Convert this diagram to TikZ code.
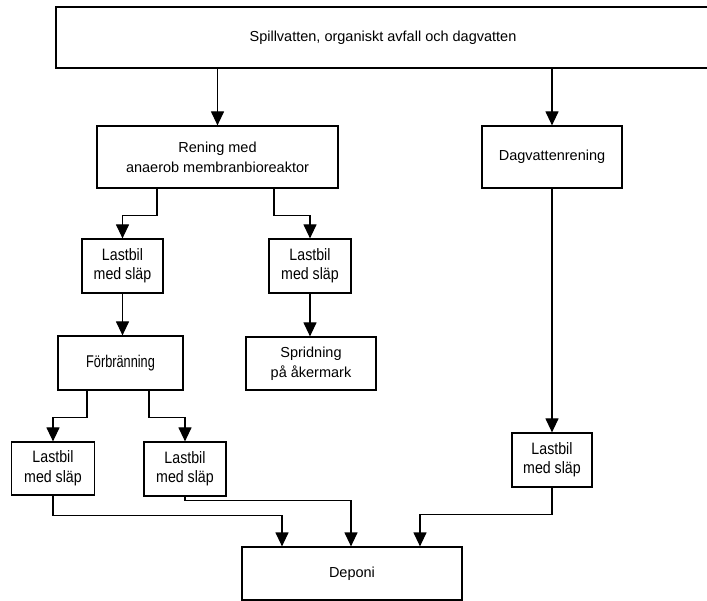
\documentclass[tikz,border=0pt]{standalone}
\usepackage{fontspec}
\usepackage{graphicx}
\setmainfont{Liberation Sans}
\usetikzlibrary{arrows.meta}

% condensed two-line label used in the transport boxes
\newcommand{\truckline}{\scalebox{0.86}[1]{\fontsize{16.5}{19.5}\selectfont
  \begin{tabular}{@{}c@{}}Lastbil\\med släp\end{tabular}}}

\begin{document}
\begin{tikzpicture}[x=1pt,y=-1pt,
  every node/.style={font=\fontsize{14.5}{20}\selectfont},
  box/.style={draw,line width=1.2pt,rectangle,inner sep=0pt,align=center},
  link/.style={line width=1.2pt},
  arr/.style={link,-{Triangle[length=14pt,width=13pt]}}]

\useasboundingbox (0,0) rectangle (707,601);
\clip (0,0) rectangle (707,601);

% process boxes
\node[box,minimum width=654pt,minimum height=61pt] (top) at (383,37.5)
  {Spillvatten, organiskt avfall och dagvatten};
\node[box,minimum width=241pt,minimum height=62pt] (rening) at (217.5,157)
  {Rening med\\anaerob membranbioreaktor};
\node[box,minimum width=140pt,minimum height=62pt] (dag) at (552,157)
  {Dagvattenrening};
\node[box,minimum width=81pt,minimum height=54pt] (l1) at (122.5,266) {\truckline};
\node[box,minimum width=82pt,minimum height=54pt] (l2) at (310,266) {\truckline};
\node[box,minimum width=125pt,minimum height=54pt] (forbr) at (120.5,363)
  {\scalebox{0.75}[1]{\fontsize{17}{20}\selectfont Förbränning}};
\node[box,minimum width=130pt,minimum height=53pt] (sprid) at (311,363.5)
  {Spridning\\på åkermark};
\node[box,minimum width=83pt,minimum height=53pt] (l3) at (53,468.5) {\truckline};
\node[box,minimum width=82pt,minimum height=54pt] (l4) at (185,469) {\truckline};
\node[box,minimum width=80pt,minimum height=54pt] (l5) at (552,460) {\truckline};
\node[box,minimum width=220pt,minimum height=53pt] (deponi) at (352,573.5) {Deponi};

% connectors
\draw[arr] (rening.north |- top.south) -- (rening.north);
\draw[arr] (dag.north |- top.south) -- (dag.north);
\draw[arr] ([xshift=-60.5pt]rening.south) -- ++(0,27) -| (l1.north);
\draw[arr] ([xshift=56.5pt]rening.south) -- ++(0,27) -| (l2.north);
\draw[arr] (l1.south) -- (l1.south |- forbr.north);
\draw[arr] (l2.south) -- (l2.south |- sprid.north);
\draw[arr] ([xshift=-33.5pt]forbr.south) -- ++(0,27) -| (l3.north);
\draw[arr] ([xshift=28.5pt]forbr.south) -- ++(0,27) -| (l4.north);
\draw[arr] (dag.south) -- (l5.north);
\draw[arr] (l3.south) -- ++(0,20) -| ([xshift=-70pt]deponi.north);
\draw[arr] (l4.south) -- ++(0,4) -| ([xshift=-1pt]deponi.north);
\draw[arr] (l5.south) -- ++(0,27) -| ([xshift=68pt]deponi.north);
\end{tikzpicture}
\end{document}
